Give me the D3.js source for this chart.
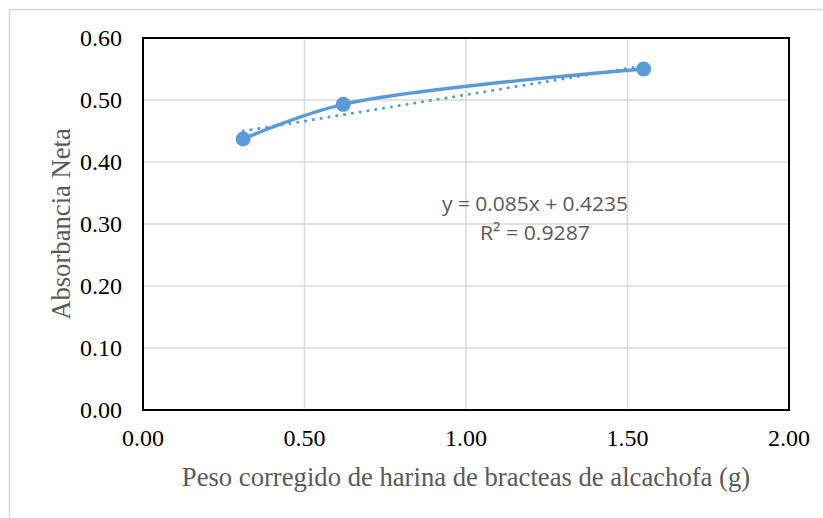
<!DOCTYPE html>
<html>
<head>
<meta charset="utf-8">
<script src="https://cdn.jsdelivr.net/npm/d3@7"></script>
<style>
  html, body { margin: 0; padding: 0; background: #fff; }
  svg { display: block; }
</style>
</head>
<body>
<svg id="chart" width="823" height="518"></svg>
<script>
// Measured samples: corrected artichoke bract flour weight (g) vs. net absorbance
const pesoG = [0.31, 0.62, 1.55];
const absorbancia = [0.437, 0.493, 0.550];

// Linear fit reported on the chart
const slope = 0.085;
const intercept = 0.4235;
const r2 = 0.9287;

const xTicks = [0, 0.5, 1.0, 1.5, 2.0];
const yTicks = [0, 0.1, 0.2, 0.3, 0.4, 0.5, 0.6];

const xTitle = "Peso corregido de harina de bracteas de alcachofa (g)";
const yTitle = "Absorbancia Neta";

const svg = d3.select("#chart");
const plot = { left: 143, right: 789, top: 38, bottom: 410 };
const blue = "#5b9bd5";
const grid = "#d9d9d9";

const x = d3.scaleLinear().domain([0, 2]).range([plot.left, plot.right]);
const y = d3.scaleLinear().domain([0, 0.6]).range([plot.bottom, plot.top]);

// chart-area frame
svg.append("rect")
  .attr("x", 9.5).attr("y", 9.5)
  .attr("width", 840).attr("height", 540)
  .attr("fill", "none").attr("stroke", grid).attr("stroke-width", 1.5);

// gridlines
svg.append("g")
  .selectAll("line").data(yTicks).join("line")
  .attr("x1", plot.left).attr("x2", plot.right)
  .attr("y1", d => y(d)).attr("y2", d => y(d))
  .attr("stroke", grid).attr("stroke-width", 1.5);
svg.append("g")
  .selectAll("line").data(xTicks).join("line")
  .attr("y1", plot.top).attr("y2", plot.bottom)
  .attr("x1", d => x(d)).attr("x2", d => x(d))
  .attr("stroke", grid).attr("stroke-width", 1.5);

// plot border
svg.append("rect")
  .attr("x", plot.left).attr("y", plot.top)
  .attr("width", plot.right - plot.left).attr("height", plot.bottom - plot.top)
  .attr("fill", "none").attr("stroke", "#000").attr("stroke-width", 2);

// tick labels
const serif = "'Liberation Serif', 'Times New Roman', serif";
svg.append("g")
  .selectAll("text").data(yTicks).join("text")
  .attr("x", 122).attr("y", d => y(d) + 8)
  .attr("text-anchor", "end")
  .attr("font-family", serif).attr("font-size", 24).attr("fill", "#000")
  .text(d => d3.format(".2f")(d));
svg.append("g")
  .selectAll("text").data(xTicks).join("text")
  .attr("x", d => x(d)).attr("y", 446)
  .attr("text-anchor", "middle")
  .attr("font-family", serif).attr("font-size", 24).attr("fill", "#000")
  .text(d => d3.format(".2f")(d));

// axis titles
svg.append("text")
  .attr("x", (plot.left + plot.right) / 2).attr("y", 486)
  .attr("text-anchor", "middle")
  .attr("font-family", serif).attr("font-size", 26.67).attr("fill", "#595959")
  .text(xTitle);
svg.append("text")
  .attr("transform", `translate(70,${(plot.top + plot.bottom) / 2}) rotate(-90)`)
  .attr("text-anchor", "middle")
  .attr("font-family", serif).attr("font-size", 26.67).attr("fill", "#595959")
  .text(yTitle);

// linear trendline across the data range
const xr = d3.extent(pesoG);
svg.append("line")
  .attr("x1", x(xr[0])).attr("y1", y(slope * xr[0] + intercept))
  .attr("x2", x(xr[1])).attr("y2", y(slope * xr[1] + intercept))
  .attr("stroke", blue).attr("stroke-width", 3)
  .attr("stroke-linecap", "round").attr("stroke-dasharray", "0.1 7.8");

// smoothed series line
const pts = pesoG.map((v, i) => [v, absorbancia[i]]);
svg.append("path")
  .datum(pts)
  .attr("d", d3.line().x(d => x(d[0])).y(d => y(d[1])).curve(d3.curveCatmullRom.alpha(0.5)))
  .attr("fill", "none").attr("stroke", blue).attr("stroke-width", 3.4)
  .attr("stroke-linecap", "round");

// markers
svg.append("g")
  .selectAll("circle").data(pts).join("circle")
  .attr("cx", d => x(d[0])).attr("cy", d => y(d[1]))
  .attr("r", 7.5).attr("fill", blue);

// trendline equation
const sans = "'Open Sans', 'Liberation Sans', sans-serif";
svg.append("text")
  .attr("x", 442).attr("y", 211)
  .attr("font-family", sans).attr("font-size", 20).attr("fill", "#595959")
  .attr("textLength", 186).attr("lengthAdjust", "spacingAndGlyphs")
  .text(`y = ${slope}x + ${intercept}`);
svg.append("text")
  .attr("x", 480).attr("y", 240)
  .attr("font-family", sans).attr("font-size", 20).attr("fill", "#595959")
  .attr("textLength", 110).attr("lengthAdjust", "spacingAndGlyphs")
  .text(`R² = ${r2}`);
</script>
</body>
</html>
